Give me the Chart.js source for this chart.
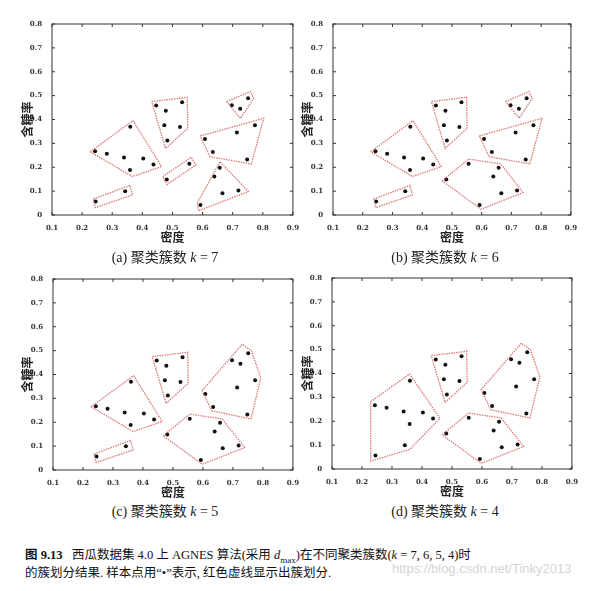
<!DOCTYPE html>
<html>
<head>
<meta charset="utf-8">
<script src="https://cdn.jsdelivr.net/npm/chart.js@4.4.1/dist/chart.umd.min.js"></script>
<style>
  body { margin: 0; background: #fff; width: 597px; height: 591px; position: relative; overflow: hidden;
         font-family: "Liberation Serif", "Noto Sans CJK SC", serif; }
  .box { position: absolute; }
  .cap { position: absolute; font-size: 14px; color: #222; text-align: center; width: 280px; }
  .fig { position: absolute; left: 25px; font-size: 12.5px; color: #111; white-space: nowrap; }
  .wm { position: absolute; left: 392px; top: 561px; font-family: "Liberation Sans", sans-serif; font-size: 13px; color: #d4d4d4; }
</style>
</head>
<body>
<div class="box" style="left:20px;top:0px;width:280px;height:245px"><canvas id="chartA"></canvas></div>
<div class="box" style="left:300px;top:0px;width:278px;height:245px"><canvas id="chartB"></canvas></div>
<div class="box" style="left:20px;top:255px;width:280px;height:245px"><canvas id="chartC"></canvas></div>
<div class="box" style="left:300px;top:254px;width:279px;height:245px"><canvas id="chartD"></canvas></div>
<div class="cap" style="left:25px;top:246px">(a) 聚类簇数 <i>k</i> = 7</div>
<div class="cap" style="left:305px;top:246px">(b) 聚类簇数 <i>k</i> = 6</div>
<div class="cap" style="left:25px;top:500px">(c) 聚类簇数 <i>k</i> = 5</div>
<div class="cap" style="left:305px;top:500px">(d) 聚类簇数 <i>k</i> = 4</div>
<div class="fig" style="top:544px"><b>图 9.13</b>&nbsp;&nbsp; 西瓜数据集 4.0 上 AGNES 算法(采用 <i>d</i><sub style="font-size:9px">max</sub>)在不同聚类簇数(<i>k</i> = 7, 6, 5, 4)时</div>
<div class="fig" style="top:562px">的簇划分结果. 样本点用“•”表示, 红色虚线显示出簇划分.</div>
<div class="wm">https://blog.csdn.net/Tinky2013</div>
<script>
// 西瓜数据集 4.0: 密度, 含糖率
const density = [0.697, 0.774, 0.634, 0.608, 0.556, 0.403, 0.481, 0.437, 0.666, 0.243,
                 0.245, 0.343, 0.639, 0.657, 0.360, 0.593, 0.719, 0.359, 0.339, 0.282,
                 0.748, 0.714, 0.483, 0.478, 0.525, 0.751, 0.532, 0.473, 0.725, 0.446];
const sugar = [0.460, 0.376, 0.264, 0.318, 0.215, 0.237, 0.149, 0.211, 0.091, 0.267,
               0.057, 0.099, 0.161, 0.198, 0.370, 0.042, 0.103, 0.188, 0.241, 0.257,
               0.232, 0.346, 0.312, 0.437, 0.369, 0.489, 0.472, 0.376, 0.445, 0.459];
const xTicks = [0.1, 0.2, 0.3, 0.4, 0.5, 0.6, 0.7, 0.8, 0.9];
const yTicks = [0, 0.1, 0.2, 0.3, 0.4, 0.5, 0.6, 0.7, 0.8];

// cluster outlines (dotted red), vertices [x, y]
const hullLeft = [[0.227,0.265],[0.369,0.395],[0.464,0.203],[0.367,0.161]];
const hullLowLeft = [[0.237,0.067],[0.359,0.124],[0.367,0.084],[0.244,0.031]];
const hullTopMid = [[0.431,0.475],[0.549,0.493],[0.551,0.363],[0.477,0.279]];
const hullSmallMid = [[0.468,0.161],[0.563,0.242],[0.578,0.209],[0.482,0.128]];
const hullTopRight = [[0.680,0.475],[0.759,0.517],[0.770,0.489],[0.726,0.405]];
const hullRight = [[0.592,0.331],[0.803,0.405],[0.762,0.214],[0.625,0.244]];
const hullLowRight = [[0.658,0.223],[0.752,0.098],[0.587,0.018],[0.582,0.049]];
const hullLowHex = [[0.467,0.143],[0.556,0.234],[0.664,0.214],[0.739,0.094],[0.598,0.024]];
const hullRightBig = [[0.597,0.332],[0.731,0.527],[0.762,0.499],[0.793,0.385],[0.760,0.214],[0.630,0.248]];
const hullLeftBig = [[0.229,0.282],[0.359,0.398],[0.460,0.212],[0.359,0.082],[0.229,0.033]];

const hullsK7 = [hullLeft, hullLowLeft, hullTopMid, hullSmallMid, hullTopRight, hullRight, hullLowRight];
const hullsK6 = [hullLeft, hullLowLeft, hullTopMid, hullTopRight, hullRight, hullLowHex];
const hullsK5 = [hullLeft, hullLowLeft, hullTopMid, hullRightBig, hullLowHex];
const hullsK4 = [hullLeftBig, hullTopMid, hullRightBig, hullLowHex];

const tickFont = { family: "DejaVu Serif", size: 7, weight: "bold" };
const titleFont = { family: "Noto Sans CJK SC", size: 12, weight: "bold" };

// frame + inward ticks
const framePlugin = {
  id: "frame",
  afterDraw(chart) {
    const { ctx, chartArea: a, scales } = chart;
    ctx.save();
    ctx.strokeStyle = "#333";
    ctx.lineWidth = 1;
    ctx.strokeRect(a.left, a.top, a.right - a.left, a.bottom - a.top);
    ctx.beginPath();
    xTicks.forEach(v => {
      const px = scales.x.getPixelForValue(v);
      ctx.moveTo(px, a.bottom); ctx.lineTo(px, a.bottom - 3);
      ctx.moveTo(px, a.top); ctx.lineTo(px, a.top + 3);
    });
    yTicks.forEach(v => {
      const py = scales.y.getPixelForValue(v);
      ctx.moveTo(a.left, py); ctx.lineTo(a.left + 3, py);
      ctx.moveTo(a.right, py); ctx.lineTo(a.right - 3, py);
    });
    ctx.stroke();
    ctx.restore();
  }
};

function makeChart(id, hulls, yWidth, rightPad) {
  const points = density.map((x, i) => ({ x: x, y: sugar[i] }));
  const datasets = hulls.map(h => ({
    data: h.concat([h[0]]).map(p => ({ x: p[0], y: p[1] })),
    showLine: true,
    borderColor: "rgba(215,95,95,0.85)",
    borderWidth: 1.3,
    borderDash: [1.5, 1],
    pointRadius: 0,
    fill: false
  }));
  datasets.push({ data: points, pointRadius: 2, pointBackgroundColor: "#111", pointBorderWidth: 0 });
  return new Chart(document.getElementById(id), {
    type: "scatter",
    data: { datasets: datasets },
    options: {
      animation: false,
      responsive: true,
      maintainAspectRatio: false,
      layout: { padding: { top: 24, right: rightPad, left: 0, bottom: 0 } },
      plugins: { legend: { display: false }, tooltip: { enabled: false } },
      scales: {
        x: {
          type: "linear", min: 0.1, max: 0.9,
          afterBuildTicks: s => { s.ticks = xTicks.map(v => ({ value: v })); },
          afterFit: s => { s.height = 30; },
          grid: { display: false }, border: { display: false },
          ticks: { font: tickFont, color: "#333", padding: 1, maxRotation: 0, callback: v => v === 0 ? "0" : String(v) },
          title: { display: true, text: "密度", font: titleFont, color: "#222", padding: 0 }
        },
        y: {
          type: "linear", min: 0, max: 0.8,
          afterBuildTicks: s => { s.ticks = yTicks.map(v => ({ value: v })); },
          afterFit: s => { s.width = yWidth; },
          grid: { display: false }, border: { display: false },
          ticks: { font: tickFont, color: "#333", padding: 2, callback: v => v === 0 ? "0" : String(v) },
          title: { display: true, text: "含糖率", font: titleFont, color: "#222", padding: 0 }
        }
      }
    },
    plugins: [framePlugin]
  });
}

makeChart("chartA", hullsK7, 32, 5);
makeChart("chartB", hullsK6, 33, 5);
makeChart("chartC", hullsK5, 33, 5);
makeChart("chartD", hullsK4, 32, 5);
</script>
</body>
</html>
